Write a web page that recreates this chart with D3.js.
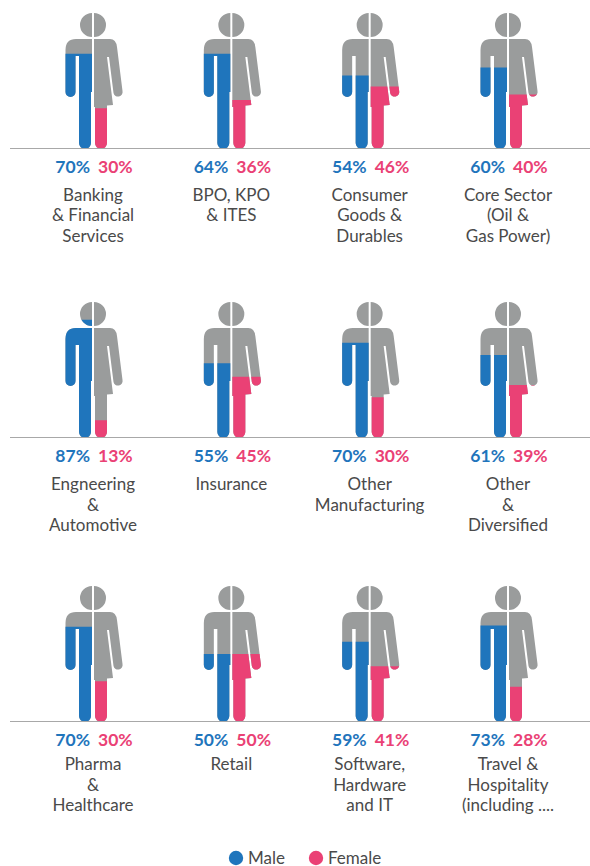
<!DOCTYPE html>
<html><head><meta charset="utf-8">
<script src="https://cdn.jsdelivr.net/npm/d3@7"></script>
<style>html,body{margin:0;padding:0;background:#fff}svg{display:block}text{font-family:Lato,sans-serif}</style>
</head><body><div id="c"></div>
<script>
const sectors=[["Banking","& Financial","Services"],["BPO, KPO","& ITES"],["Consumer","Goods &","Durables"],["Core Sector","(Oil &","Gas Power)"],["Engneering","&","Automotive"],["Insurance"],["Other","Manufacturing"],["Other","&","Diversified"],["Pharma","&","Healthcare"],["Retail"],["Software,","Hardware","and IT"],["Travel &","Hospitality","(including ...."]];
const male=[70,64,54,60,87,55,70,61,70,50,59,73];
const female=[30,36,46,40,13,45,30,39,30,50,41,28];
// heights the figures are actually filled to, where they differ from the printed figure
const maleFill=[70,70,54,60,87,55,70,61,70,50,59,71];
const femaleFill=[30,36,46,40,13,45,30,39,30,50,41,26];
const legendItems=["Male","Female"];
const BLUE="#1f75bc",PINK="#ea4175",GREY="#9a9c9c",INK="#4a4a4a";

const svg=d3.select("#c").append("svg").attr("width",590).attr("height",866);
const x=d3.scalePoint().domain([0,1,2,3]).range([93,508]);
const rowBase=[149,438,722], labelOff=[51.5,52,48];
const h=d3.scaleLinear().domain([0,100]).range([0,136]);

const malePath="M-1,-110L-17,-110Q-27.5,-110 -27.5,-99L-27.5,-57A5,5 0 0 0 -17.5,-57L-17.5,-93L-14,-93L-14,-6A6,6 0 0 0 -2,-6L-2,-57L-1,-57Z"+
  "M-1,-136A12,12 0 0 0 -1,-112Z";
const femalePath="M1,-110L17,-110Q23,-110 24,-102L29.5,-58A4.6,4.6 0 0 1 20.5,-56L16,-92L14,-92L20,-44L14,-43.5L14,-6A6,6 0 0 1 2,-6L2,-42L1,-42Z"+
  "M1,-136A12,12 0 0 1 1,-112Z";
const defs=svg.append("defs");

sectors.forEach((lines,i)=>{
  const c=i%4,r=Math.floor(i/4),cx=x(c),by=rowBase[r];
  const g=svg.append("g").attr("transform",`translate(${cx},${by})`);
  const mId="m"+i,fId="f"+i;
  defs.append("clipPath").attr("id",mId).append("rect").attr("x",-40).attr("width",40).attr("y",-h(maleFill[i])).attr("height",h(maleFill[i]));
  defs.append("clipPath").attr("id",fId).append("rect").attr("x",0).attr("width",40).attr("y",-h(femaleFill[i])).attr("height",h(femaleFill[i]));
  g.append("path").attr("d",malePath).attr("fill",GREY);
  g.append("path").attr("d",femalePath).attr("fill",GREY);
  g.append("path").attr("d",malePath).attr("fill",BLUE).attr("clip-path",`url(#${mId})`);
  g.append("path").attr("d",femalePath).attr("fill",PINK).attr("clip-path",`url(#${fId})`);
  g.append("text").attr("x",-3).attr("y",24).attr("text-anchor","end").attr("font-size",17.5).attr("font-weight",700).attr("fill",BLUE).text(male[i]+"%");
  g.append("text").attr("x",5).attr("y",24).attr("font-size",17.5).attr("font-weight",700).attr("fill",PINK).text(female[i]+"%");
  lines.forEach((t,k)=>{
    g.append("text").attr("x",0).attr("y",labelOff[r]+k*20.5).attr("text-anchor","middle").attr("font-size",17).attr("fill",INK).text(t);
  });
});
rowBase.forEach(y=>{
  svg.append("line").attr("x1",10).attr("x2",590).attr("y1",y-.5).attr("y2",y-.5).attr("stroke","#a8a8a8").attr("stroke-width",1.2);
});
const lx=[236,316],lc=[BLUE,PINK];
legendItems.forEach((t,i)=>{
  svg.append("circle").attr("cx",lx[i]).attr("cy",858).attr("r",7.2).attr("fill",lc[i]);
  svg.append("text").attr("x",lx[i]+12).attr("y",863.5).attr("font-size",17).attr("fill",INK).text(t);
});
</script></body></html>
